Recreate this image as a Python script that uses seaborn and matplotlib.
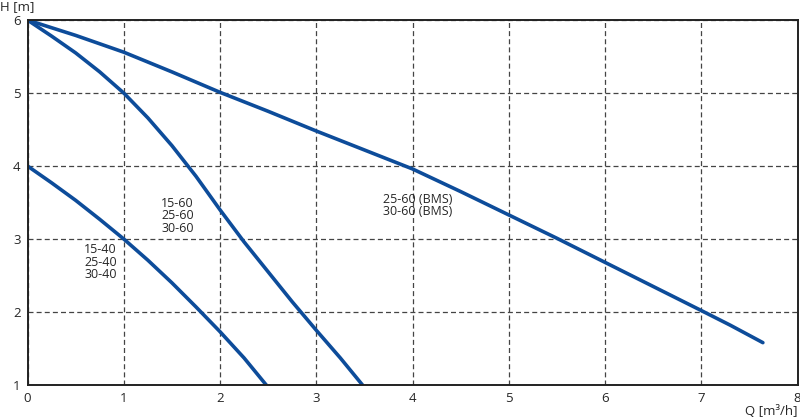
import matplotlib.pyplot as plt
import seaborn as sns
import pandas as pd

# pump curves
q_40 = [0.0, 0.25, 0.5, 0.75, 1.0, 1.25, 1.5, 1.75, 2.0, 2.25, 2.48]
h_40 = [4.0, 3.77, 3.53, 3.27, 3.0, 2.71, 2.40, 2.07, 1.73, 1.37, 1.0]

q_60 = [0.0, 0.25, 0.5, 0.75, 1.0, 1.25, 1.5, 1.75, 2.0, 2.25, 2.5, 2.75, 3.0, 3.25, 3.48]
h_60 = [6.0, 5.78, 5.55, 5.29, 5.0, 4.66, 4.28, 3.86, 3.40, 2.96, 2.55, 2.14, 1.75, 1.37, 1.0]

q_bms = [0.0, 0.5, 1.0, 1.5, 2.0, 2.5, 3.0, 3.5, 4.0, 4.5, 5.0, 5.5, 6.0, 6.5, 7.0, 7.3, 7.64]
h_bms = [6.0, 5.79, 5.56, 5.29, 5.01, 4.75, 4.48, 4.22, 3.96, 3.65, 3.33, 3.01, 2.68, 2.35, 2.02, 1.82, 1.58]

labels = ["15-40\n25-40\n30-40", "15-60\n25-60\n30-60", "25-60 (BMS)\n30-60 (BMS)"]
label_pos = [(0.76, 2.68), (1.56, 3.32), (4.05, 3.46)]

x_ticks = list(range(0, 9))
y_ticks = list(range(1, 7))

curves = pd.concat([
    pd.DataFrame({"Q": q_40, "H": h_40, "pump": labels[0]}),
    pd.DataFrame({"Q": q_60, "H": h_60, "pump": labels[1]}),
    pd.DataFrame({"Q": q_bms, "H": h_bms, "pump": labels[2]}),
])

sns.set_style('white')
plt.rcParams['font.family'] = ['Open Sans', 'DejaVu Sans']

blue = '#0d4c9a'
fig = plt.figure(figsize=(8, 4.18), dpi=100)
ax = fig.add_axes([0.0344, 0.079, 0.9625, 0.873])

ax.grid(True, linestyle=(0, (4, 2.5)), color='#444444', linewidth=0.9)
sns.lineplot(data=curves, x="Q", y="H", hue="pump", palette=[blue] * 3,
             linewidth=2.6, legend=False, sort=False, estimator=None, ax=ax)

for txt, (x, y) in zip(labels, label_pos):
    ax.text(x, y, txt, ha='center', va='center', fontsize=9, linespacing=0.95)

ax.set_xlim(0, 8)
ax.set_ylim(1, 6)
ax.set_xticks(x_ticks)
ax.set_yticks(y_ticks)
ax.tick_params(labelsize=9.5, length=0, pad=5)
for s in ax.spines.values():
    s.set_color('#222222')
    s.set_linewidth(1.4)
ax.set_xlabel('')
ax.set_ylabel('')
fig.text(0.0, 1.0, 'H [m]', ha='left', va='top', fontsize=9.5)
fig.text(0.997, 0.0, 'Q [m³/h]', ha='right', va='bottom', fontsize=9.5)

plt.savefig("out.png", dpi=100)
